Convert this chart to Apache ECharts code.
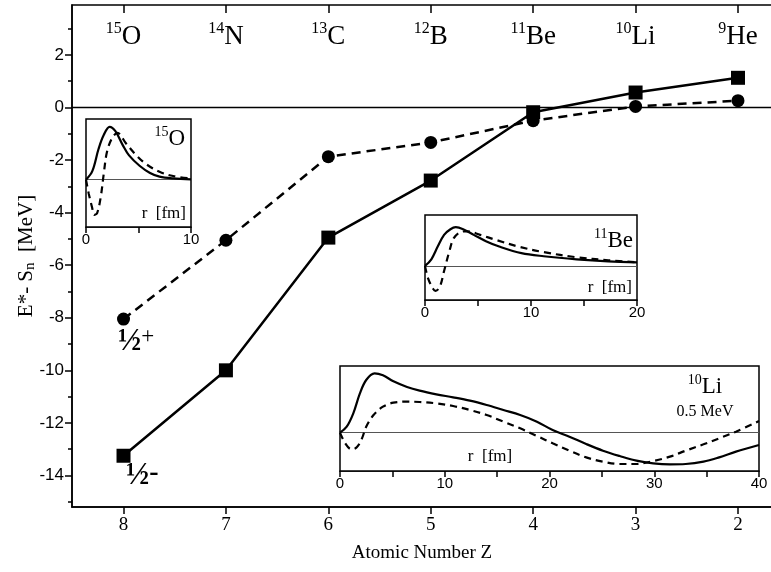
<!DOCTYPE html>
<html><head><meta charset="utf-8">
<script src="https://cdn.jsdelivr.net/npm/echarts@6/dist/echarts.min.js"></script>
<style>html,body{margin:0;padding:0;background:#fff}#c{width:771px;height:572px}</style>
</head><body><div id="c"></div>
<script>
// ---- main panel data ----
const zValues = [8, 7, 6, 5, 4, 3, 2];
const isoMass = ['15', '14', '13', '12', '11', '10', '9'];
const isoElem = ['O', 'N', 'C', 'B', 'Be', 'Li', 'He'];
const halfMinus = [-13.25, -10.0, -4.95, -2.78, -0.18, 0.57, 1.13];
const halfPlus = [-8.05, -5.05, -1.87, -1.33, -0.5, 0.04, 0.26];
const yTicks = [-14, -12, -10, -8, -6, -4, -2, 0, 2];
const yMinor = [-15, -13, -11, -9, -7, -5, -3, -1, 1, 3];

// ---- inset 15O (r in fm, amplitude arbitrary) ----
const o15SolidR = [0, 0.6, 1.2, 1.7, 2.25, 2.8, 3.5, 4.1, 5.1, 6.1, 7, 8.3, 10];
const o15Solid = [0, 0.14, 0.51, 0.74, 0.87, 0.8, 0.57, 0.4, 0.23, 0.11, 0.05, 0.02, 0.005];
const o15DashR = [0, 0.26, 0.58, 0.78, 1.06, 1.4, 1.7, 2.0, 2.5, 3.0, 3.8, 4.8, 5.7, 7, 8.3, 10];
const o15Dash = [0, -0.23, -0.46, -0.58, -0.55, -0.29, 0.11, 0.46, 0.69, 0.77, 0.6, 0.4, 0.26, 0.13, 0.06, 0.02];

// ---- inset 11Be ----
const be11SolidR = [0, 0.6, 1.2, 1.8, 2.4, 2.9, 3.6, 4.6, 5.8, 7, 9.1, 11.2, 14.3, 17.3, 20];
const be11Solid = [0, 0.13, 0.38, 0.61, 0.72, 0.76, 0.72, 0.61, 0.48, 0.38, 0.25, 0.19, 0.13, 0.09, 0.07];
const be11DashR = [0, 0.3, 0.76, 1.0, 1.4, 1.8, 2.3, 2.7, 3.3, 4.0, 5.2, 6.7, 8.8, 11.2, 14.3, 17.3, 20];
const be11Dash = [0, -0.25, -0.45, -0.49, -0.41, -0.1, 0.29, 0.54, 0.66, 0.68, 0.61, 0.51, 0.38, 0.27, 0.17, 0.11, 0.07];

// ---- inset 10Li ----
const li10SolidR = [0, 0.64, 1.27, 1.9, 2.5, 3.3, 4.1, 5.1, 6.4, 7.6, 9.2, 10.8, 12.4, 14, 15.6, 17.2, 18.8, 20.3, 21.9, 23.5, 25.1, 26.7, 28.3, 29.9, 31.5, 33, 34.7, 36.2, 37.8, 40];
const li10Solid = [0, 0.09, 0.29, 0.59, 0.79, 0.89, 0.86, 0.77, 0.685, 0.63, 0.575, 0.53, 0.48, 0.415, 0.34, 0.265, 0.165, 0.04, -0.06, -0.17, -0.27, -0.35, -0.42, -0.46, -0.475, -0.47, -0.435, -0.37, -0.285, -0.185];
const li10DashR = [0, 0.5, 1.1, 1.6, 2.1, 2.5, 3.2, 4.1, 5.1, 6.4, 7.6, 9.2, 10.8, 12.4, 14, 15.6, 17.2, 18.8, 20.3, 21.9, 23.5, 25.1, 26.7, 28.3, 29.9, 31.5, 33, 34.7, 36.2, 37.8, 40];
const li10Dash = [0, -0.16, -0.25, -0.22, -0.085, 0.09, 0.265, 0.39, 0.45, 0.465, 0.46, 0.44, 0.4, 0.34, 0.265, 0.165, 0.065, -0.05, -0.16, -0.27, -0.37, -0.435, -0.47, -0.47, -0.425, -0.36, -0.27, -0.175, -0.085, 0.015, 0.175];

const SERIF = '"Liberation Serif", "Times New Roman", serif';
const SANS = '"Liberation Sans", Arial, sans-serif';
const zip = (a, b) => a.map((v, i) => [v, b[i]]);

const chart = echarts.init(document.getElementById('c'), null, {renderer: 'canvas'});

const insetX = (grid, max) => ({
  type: 'value', gridIndex: grid, min: 0, max: max, interval: 5,
  axisLine: {show: true, onZero: false, lineStyle: {color: '#000', width: 1.5}},
  axisTick: {show: true, inside: false, length: 6, lineStyle: {color: '#000', width: 1.5}},
  axisLabel: {show: true, margin: 5, color: '#000', fontFamily: SANS, fontSize: 15,
    formatter: v => (v % 10 === 0 ? String(v) : '')},
  splitLine: {show: false}
});
const insetY = (grid, min, max) => ({type: 'value', gridIndex: grid, min: min, max: max, show: false, splitLine: {show: false}});

const baseLine = {
  silent: true, symbol: 'none', label: {show: false},
  lineStyle: {color: '#555', width: 1, type: 'solid'},
  data: [{yAxis: 0}]
};
const solidCurve = (xi, yi, r, v) => ({
  type: 'line', xAxisIndex: xi, yAxisIndex: yi, data: zip(r, v), smooth: 0.35,
  symbol: 'none', lineStyle: {color: '#000', width: 2.2}, z: 5, markLine: baseLine
});
const dashCurve = (xi, yi, r, v) => ({
  type: 'line', xAxisIndex: xi, yAxisIndex: yi, data: zip(r, v), smooth: 0.35,
  symbol: 'none', lineStyle: {color: '#000', width: 2.2, type: [7, 5]}, z: 5
});
const isoRich = (sub, el) => ({
  s: {fontFamily: SERIF, fontSize: sub, verticalAlign: 'top', lineHeight: el + 2, fill: '#000', color: '#000'},
  e: {fontFamily: SERIF, fontSize: el, verticalAlign: 'bottom', lineHeight: el + 2, fill: '#000', color: '#000'}
});

const option = {
  animation: false,
  backgroundColor: '#fff',
  grid: [
    {left: 72, top: 5, right: -1, bottom: 65, outerBoundsMode: 'none', containLabel: false, show: true, borderColor: '#000', borderWidth: 1.5, backgroundColor: 'transparent'},
    {left: 86, top: 119, width: 105, height: 108, outerBoundsMode: 'none', containLabel: false, show: true, borderColor: '#000', borderWidth: 1.5, backgroundColor: '#fff', z: 3},
    {left: 425, top: 215, width: 212, height: 85, outerBoundsMode: 'none', containLabel: false, show: true, borderColor: '#000', borderWidth: 1.5, backgroundColor: '#fff', z: 3},
    {left: 340, top: 366, width: 419, height: 105, outerBoundsMode: 'none', containLabel: false, show: true, borderColor: '#000', borderWidth: 1.5, backgroundColor: '#fff', z: 3}
  ],
  xAxis: [
    {
      type: 'value', gridIndex: 0, min: 1.668, max: 8.503, inverse: true, position: 'bottom',
      axisLine: {show: true, onZero: false, lineStyle: {color: '#000', width: 1.5}},
      axisTick: {show: true, inside: false, length: 7, customValues: zValues, lineStyle: {color: '#000', width: 1.5}},
      axisLabel: {show: true, customValues: zValues, margin: 9, color: '#000', fontFamily: SERIF, fontSize: 19},
      splitLine: {show: false},
      name: 'Atomic Number Z', nameLocation: 'middle', nameGap: 37,
      nameTextStyle: {color: '#000', fontFamily: SERIF, fontSize: 19}
    },
    {
      type: 'value', gridIndex: 0, min: 1.668, max: 8.503, inverse: true, position: 'top',
      axisLine: {show: false, onZero: false},
      axisTick: {show: true, inside: true, length: 8, customValues: zValues, lineStyle: {color: '#000', width: 1.5}},
      axisLabel: {
        show: true, inside: true, customValues: zValues, margin: 16, color: '#000',
        formatter: v => { const i = zValues.indexOf(Math.round(v)); return i < 0 ? '' : '{s|' + isoMass[i] + '}{e|' + isoElem[i] + '}'; },
        rich: isoRich(16, 27)
      },
      splitLine: {show: false}
    },
    insetX(1, 10),
    insetX(2, 20),
    insetX(3, 40)
  ],
  yAxis: [
    {
      type: 'value', gridIndex: 0, min: -15.2, max: 3.9, position: 'left',
      axisLine: {show: true, onZero: false, lineStyle: {color: '#000', width: 1.5}},
      axisTick: {show: true, inside: false, length: 7, customValues: yTicks, lineStyle: {color: '#000', width: 1.5}},
      axisLabel: {show: true, customValues: yTicks, margin: 8, color: '#000', fontFamily: SANS, fontSize: 17},
      splitLine: {show: false},
      name: 'E*- S{sub|n}  [MeV]', nameLocation: 'middle', nameGap: 34, nameRotate: 90, nameMoveOverlap: false,
      nameTextStyle: {
        color: '#000', fontFamily: SERIF, fontSize: 21,
        rich: {sub: {fontFamily: SERIF, fontSize: 15, color: '#000', verticalAlign: 'bottom', padding: [8, 0, 0, 0]}}
      }
    },
    {
      type: 'value', gridIndex: 0, min: -15.2, max: 3.9, position: 'left',
      axisLine: {show: false, onZero: false},
      axisTick: {show: true, inside: false, length: 4, customValues: yMinor, lineStyle: {color: '#000', width: 1.5}},
      axisLabel: {show: false}, splitLine: {show: false}
    },
    insetY(1, -0.78, 1.0),
    insetY(2, -0.67, 1.0),
    insetY(3, -0.575, 1.0)
  ],
  series: [
    {
      type: 'line', xAxisIndex: 0, yAxisIndex: 0, data: zip(zValues, halfMinus),
      symbol: 'rect', symbolSize: 14, itemStyle: {color: '#000'},
      lineStyle: {color: '#000', width: 2.5}, z: 2,
      markLine: {silent: true, symbol: 'none', label: {show: false}, lineStyle: {color: '#000', width: 1.3, type: 'solid'}, data: [{yAxis: 0}]}
    },
    {
      type: 'line', xAxisIndex: 0, yAxisIndex: 0, data: zip(zValues, halfPlus),
      symbol: 'circle', symbolSize: 13, itemStyle: {color: '#000'},
      lineStyle: {color: '#000', width: 2.5, type: [9, 6]}, z: 2
    },
    solidCurve(2, 2, o15SolidR, o15Solid),
    dashCurve(2, 2, o15DashR, o15Dash),
    solidCurve(3, 3, be11SolidR, be11Solid),
    dashCurve(3, 3, be11DashR, be11Dash),
    solidCurve(4, 4, li10SolidR, li10Solid),
    dashCurve(4, 4, li10DashR, li10Dash)
  ],
  graphic: [
    {type: 'text', z: 100, style: {x: 185, y: 138, text: '{s|15}{e|O}', textAlign: 'right', textVerticalAlign: 'middle', rich: isoRich(14, 23)}},
    {type: 'text', z: 100, style: {x: 186, y: 214, text: 'r  [fm]', textAlign: 'right', textVerticalAlign: 'middle', font: '17px ' + SERIF, fill: '#000'}},
    {type: 'text', z: 100, style: {x: 633, y: 240, text: '{s|11}{e|Be}', textAlign: 'right', textVerticalAlign: 'middle', rich: isoRich(14, 23)}},
    {type: 'text', z: 100, style: {x: 632, y: 288, text: 'r  [fm]', textAlign: 'right', textVerticalAlign: 'middle', font: '17px ' + SERIF, fill: '#000'}},
    {type: 'text', z: 100, style: {x: 705, y: 386, text: '{s|10}{e|Li}', textAlign: 'center', textVerticalAlign: 'middle', rich: isoRich(14, 23)}},
    {type: 'text', z: 100, style: {x: 705, y: 412, text: '0.5 MeV', textAlign: 'center', textVerticalAlign: 'middle', font: '16px ' + SERIF, fill: '#000'}},
    {type: 'text', z: 100, style: {x: 490, y: 457, text: 'r  [fm]', textAlign: 'center', textVerticalAlign: 'middle', font: '17px ' + SERIF, fill: '#000'}},
    {type: 'text', z: 100, style: {x: 118, y: 341, text: '{h|½}{p|+}', textAlign: 'left', textVerticalAlign: 'middle',
      rich: {h: {fontFamily: SERIF, fontSize: 31, fontWeight: 'bold', fill: '#000', verticalAlign: 'bottom', lineHeight: 32}, p: {fontFamily: SERIF, fontSize: 23, fill: '#000', verticalAlign: 'top', lineHeight: 32}}}},
    {type: 'text', z: 100, style: {x: 126, y: 475, text: '{h|½}{p|-}', textAlign: 'left', textVerticalAlign: 'middle',
      rich: {h: {fontFamily: SERIF, fontSize: 31, fontWeight: 'bold', fill: '#000', verticalAlign: 'bottom', lineHeight: 32}, p: {fontFamily: SERIF, fontSize: 28, fontWeight: 'bold', fill: '#000', verticalAlign: 'top', lineHeight: 32}}}}
  ]
};
chart.setOption(option);
</script>
</body></html>
